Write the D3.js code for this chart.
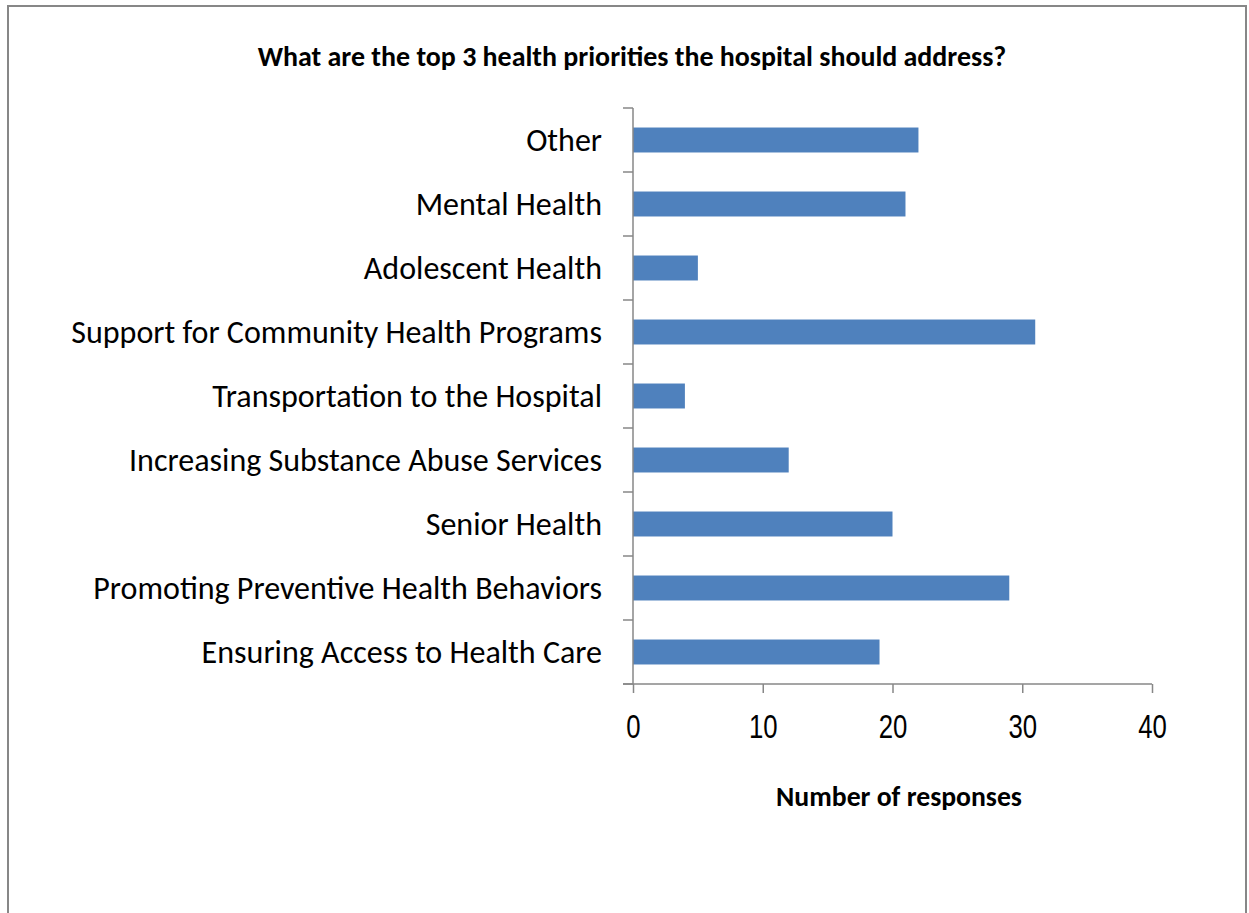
<!DOCTYPE html>
<html>
<head>
<meta charset="utf-8">
<script src="https://cdn.jsdelivr.net/npm/d3@7"></script>
<style>
  html, body { margin: 0; padding: 0; background: #fff; }
  svg { display: block; }
</style>
</head>
<body>
<svg id="chart" width="1249" height="913"></svg>
<script>
// Survey answers, listed bottom to top as they appear on the chart
const categories = [
  "Ensuring Access to Health Care",
  "Promoting Preventive Health Behaviors",
  "Senior Health",
  "Increasing Substance Abuse Services",
  "Transportation to the Hospital",
  "Support for Community Health Programs",
  "Adolescent Health",
  "Mental Health",
  "Other"
];
const responses = [19, 29, 20, 12, 4, 31, 5, 21, 22];
const xTicks = [0, 10, 20, 30, 40];
const titleText = "What are the top 3 health priorities the hospital should address?";
const xTitleText = "Number of responses";

const svg = d3.select("#chart");
const labelFont = "Carlito, Calibri, Lato, 'Open Sans', sans-serif";
const numFont = "'Liberation Sans', Arial, sans-serif";

// Outer frame
svg.append("rect")
  .attr("x", 8).attr("y", 6)
  .attr("width", 1238).attr("height", 930)
  .attr("fill", "none").attr("stroke", "#878787").attr("stroke-width", 2);

const plot = { left: 633, right: 1152, top: 108, bottom: 684 };

const x = d3.scaleLinear().domain([0, 40]).range([plot.left, plot.right]);
const y = d3.scaleBand()
  .domain(categories.slice().reverse())
  .range([plot.top, plot.bottom])
  .paddingInner(0.61).paddingOuter(0.305);

// Fit a text element's font size so its rendered width matches a target
function fitWidth(sel, target, start) {
  sel.attr("font-size", start);
  const w = sel.node().getComputedTextLength();
  if (w > 0) sel.attr("font-size", start * target / w);
}

// Title
const title = svg.append("text")
  .attr("x", 632).attr("y", 66)
  .attr("text-anchor", "middle")
  .attr("font-family", labelFont).attr("font-weight", "bold")
  .attr("fill", "#000")
  .text(titleText);
fitWidth(title, 749, 20);

// Bars
svg.append("g").selectAll("rect")
  .data(categories.map((c, i) => ({ c, v: responses[i] })))
  .join("rect")
  .attr("x", x(0))
  .attr("y", d => y(d.c))
  .attr("width", d => x(d.v) - x(0))
  .attr("height", y.bandwidth())
  .attr("fill", "#4f81bd");

// Category axis (ticks at band boundaries)
const gy = svg.append("g").attr("transform", `translate(${plot.left},0)`);
gy.append("line")
  .attr("x1", 0).attr("x2", 0)
  .attr("y1", plot.top).attr("y2", plot.bottom)
  .attr("stroke", "#878787").attr("stroke-width", 1.5);
const step = (plot.bottom - plot.top) / categories.length;
gy.selectAll("line.tick")
  .data(d3.range(categories.length + 1))
  .join("line")
  .attr("class", "tick")
  .attr("x1", -10).attr("x2", 0)
  .attr("y1", i => plot.top + i * step).attr("y2", i => plot.top + i * step)
  .attr("stroke", "#878787").attr("stroke-width", 1.5);

const labels = gy.selectAll("text")
  .data(categories)
  .join("text")
  .attr("x", -31)
  .attr("y", d => y(d) + y.bandwidth() / 2)
  .attr("dy", "0.35em")
  .attr("text-anchor", "end")
  .attr("font-family", labelFont)
  .attr("fill", "#000")
  .text(d => d);
// size all labels from the longest one
const longest = labels.filter(d => d === "Support for Community Health Programs");
fitWidth(longest, 531, 26);
labels.attr("font-size", longest.attr("font-size"));

// Value axis
const xAxis = d3.axisBottom(x).tickValues(xTicks).tickSize(9).tickPadding(0);
const gx = svg.append("g")
  .attr("transform", `translate(0,${plot.bottom})`)
  .call(xAxis);
gx.select(".domain").remove();
gx.append("line")
  .attr("x1", plot.left - 10).attr("x2", plot.right)
  .attr("y1", 0).attr("y2", 0)
  .attr("stroke", "#878787").attr("stroke-width", 1.5);
gx.selectAll(".tick line").attr("stroke", "#878787").attr("stroke-width", 1.5);
// condensed numerals: horizontally squeezed sans
gx.selectAll(".tick text")
  .attr("y", 0).attr("dy", 0)
  .attr("transform", "translate(0,54) scale(0.78,1)")
  .attr("font-family", numFont)
  .attr("font-size", 33)
  .attr("fill", "#000");

// Axis title
const xTitle = svg.append("text")
  .attr("x", 899).attr("y", 806)
  .attr("text-anchor", "middle")
  .attr("font-family", labelFont).attr("font-weight", "bold")
  .attr("fill", "#000")
  .text(xTitleText);
fitWidth(xTitle, 246, 20);
</script>
</body>
</html>
